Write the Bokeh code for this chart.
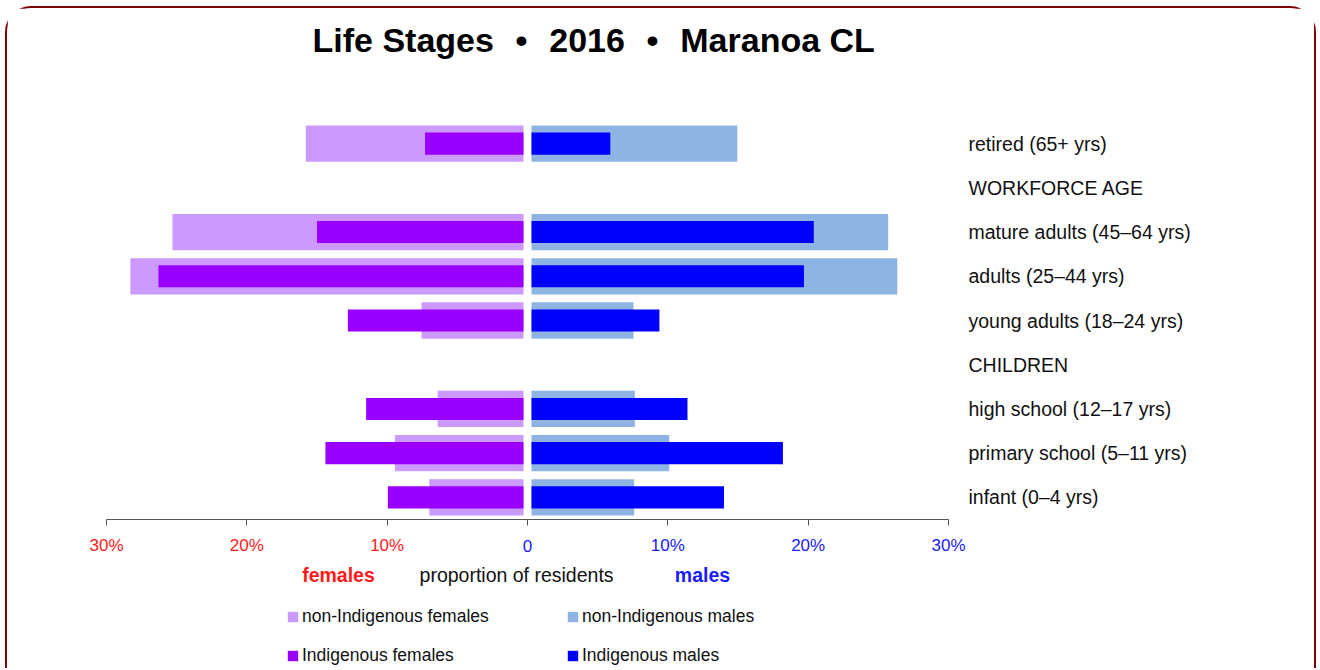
from bokeh.plotting import figure
from bokeh.layouts import column
from bokeh.models import (ColumnDataSource, FactorRange, Range1d, LinearAxis, FixedTicker,
                          Label, Legend, LegendItem)
from bokeh.embed import file_html
from bokeh.resources import INLINE
from bokeh.core.properties import value

# ---- data ----
categories = ["retired (65+ yrs)", "WORKFORCE AGE", "mature adults (45–64 yrs)",
              "adults (25–44 yrs)", "young adults (18–24 yrs)", "CHILDREN",
              "high school (12–17 yrs)", "primary school (5–11 yrs)", "infant (0–4 yrs)"]
groups = ["retired (65+ yrs)", "mature adults (45–64 yrs)", "adults (25–44 yrs)",
          "young adults (18–24 yrs)", "high school (12–17 yrs)",
          "primary school (5–11 yrs)", "infant (0–4 yrs)"]
females_non_indigenous = [15.8, 25.3, 28.3, 7.55, 6.4, 9.45, 7.0]
females_indigenous = [7.3, 15.0, 26.3, 12.8, 11.5, 14.4, 9.95]
males_non_indigenous = [14.95, 25.7, 26.35, 7.55, 7.65, 10.1, 7.6]
males_indigenous = [5.9, 20.4, 19.7, 9.4, 11.4, 18.2, 14.0]

tick_values = [-30, -20, -10, 0, 10, 20, 30]
tick_labels = ["30%", "20%", "10%", "0", "10%", "20%", "30%"]

# ---- style ----
GAP = 0.285
RED = "#FF1A1A"
BLUE = "#1A1AFF"
C_FN = "#CC99FF"
C_FI = "#9900FF"
C_MN = "#8EB4E3"
C_MI = "#0000FF"
FONT = "Liberation Sans"
W = 1307
PADPX = 42
LEFT, RIGHT = 99 - PADPX, 366 - PADPX
PADX = PADPX * 60 / (W - 99 - 366)

xr = Range1d(-30 - PADX, 30 + PADX)

# ---- title strip ----
t = figure(width=W, height=113, x_range=xr, output_backend="svg", toolbar_location=None,
           x_axis_location=None, y_axis_location=None,
           min_border_left=LEFT, min_border_right=RIGHT, min_border_top=0, min_border_bottom=0)
t.outline_line_color = None
t.xgrid.visible = False
t.ygrid.visible = False
SEP = "\u00a0\u00a0\u200a•\u200a\u00a0\u00a0"
t.title.text = "Life Stages" + SEP + "2016" + SEP + "Maranoa CL"
t.title.text_font = FONT
t.title.text_font_size = "34px"
t.title.text_font_style = "bold"
t.title.text_color = "#000000"
t.title.align = "left"
t.title.offset = 312 - (106 - PADPX)
t.title.vertical_align = "top"
t.title.standoff = 25

# ---- main chart ----
p = figure(width=W, height=412, y_range=FactorRange(*categories[::-1]), x_range=xr,
           output_backend="svg", toolbar_location=None,
           x_axis_location=None, y_axis_location="right",
           min_border_left=LEFT, min_border_right=RIGHT, min_border_top=0, min_border_bottom=14)
p.outline_line_color = None
p.xgrid.visible = False
p.ygrid.visible = False

src = ColumnDataSource(dict(
    y=groups,
    fn_l=[-v for v in females_non_indigenous], fi_l=[-v for v in females_indigenous],
    mn_r=males_non_indigenous, mi_r=males_indigenous,
))
p.hbar(y="y", left="fn_l", right=-GAP, height=0.82, source=src, fill_color=C_FN, line_color=None)
p.hbar(y="y", left=GAP, right="mn_r", height=0.82, source=src, fill_color=C_MN, line_color=None)
p.hbar(y="y", left="fi_l", right=-GAP, height=0.5, source=src, fill_color=C_FI, line_color=None)
p.hbar(y="y", left=GAP, right="mi_r", height=0.5, source=src, fill_color=C_MI, line_color=None)

ya = p.yaxis[0]
ya.axis_line_color = None
ya.major_tick_line_color = None
ya.major_tick_in = 0
ya.major_tick_out = 0
ya.minor_tick_line_color = None
ya.major_label_standoff = 968 - (948 + PADPX)
ya.major_label_text_font = FONT
ya.major_label_text_font_size = "19.5px"
ya.major_label_text_color = "#111111"

xa = LinearAxis(ticker=FixedTicker(ticks=tick_values), bounds=(-30, 30),
                major_label_overrides={v: "" for v in tick_values})
xa.axis_line_color = "#555555"
xa.major_tick_line_color = "#555555"
xa.major_tick_in = 0
xa.major_tick_out = 6
xa.minor_tick_line_color = None
xa.major_label_standoff = 0
xa.major_label_text_font_size = "0px"
p.add_layout(xa, "below")

# ---- lower strip: tick labels, axis captions, legend ----
q = figure(width=W, height=135, x_range=xr, y_range=Range1d(135, 0),
           output_backend="svg", toolbar_location=None,
           x_axis_location=None, y_axis_location=None,
           min_border_left=LEFT, min_border_right=RIGHT, min_border_top=0, min_border_bottom=0)
q.outline_line_color = None
q.xgrid.visible = False
q.ygrid.visible = False

tick_src = ColumnDataSource(dict(x=tick_values, y=[12] * len(tick_values), text=tick_labels,
                                 color=[RED if v < 0 else BLUE for v in tick_values]))
q.text(x="x", y="y", text="text", source=tick_src, text_color="color",
       text_align="center", text_baseline="middle",
       text_font=value(FONT), text_font_size=value("17px"))

q.add_layout(Label(x=-13.47, y=41, text="females", text_color=RED, text_font=FONT,
                   text_font_style="bold", text_font_size="19.5px", text_align="center",
                   text_baseline="middle"))
q.add_layout(Label(x=-0.78, y=41, text="proportion of residents", text_color="#111111",
                   text_font=FONT, text_font_size="19.5px", text_align="center",
                   text_baseline="middle"))
q.add_layout(Label(x=12.47, y=41, text="males", text_color=BLUE, text_font=FONT,
                   text_font_style="bold", text_font_size="19.5px", text_align="center",
                   text_baseline="middle"))

# legend swatches: hidden copies of the bar renderers (legend only)
l_fn = q.hbar(y="y", left="fn_l", right=-GAP, height=1, source=src, fill_color=C_FN, line_color=None, visible=False)
l_mn = q.hbar(y="y", left=GAP, right="mn_r", height=1, source=src, fill_color=C_MN, line_color=None, visible=False)
l_fi = q.hbar(y="y", left="fi_l", right=-GAP, height=1, source=src, fill_color=C_FI, line_color=None, visible=False)
l_mi = q.hbar(y="y", left=GAP, right="mi_r", height=1, source=src, fill_color=C_MI, line_color=None, visible=False)

legend = Legend(items=[LegendItem(label="non-Indigenous females", renderers=[l_fn]),
                       LegendItem(label="non-Indigenous males", renderers=[l_mn]),
                       LegendItem(label="Indigenous females", renderers=[l_fi]),
                       LegendItem(label="Indigenous males", renderers=[l_mi])],
                location=(286 - (106 - PADPX), 2), orientation="horizontal", ncols=2)
legend.border_line_color = None
legend.background_fill_color = None
legend.padding = 0
legend.margin = 0
legend.spacing = 18
legend.glyph_width = 13
legend.glyph_height = 13
legend.label_standoff = 3
legend.label_width = 246
legend.label_height = 20
legend.label_text_font = FONT
legend.label_text_font_size = "17.5px"
legend.label_text_color = "#111111"
legend.inactive_fill_alpha = 0
q.add_layout(legend, "center")

layout = column(t, p, q, spacing=0)
layout.styles = {"border": "2px solid #7F0000", "border-bottom": "none",
                 "border-radius": "26px 26px 0 0", "margin-left": "5px", "margin-top": "6px"}

open("out.html", "w").write(file_html(layout, INLINE))
